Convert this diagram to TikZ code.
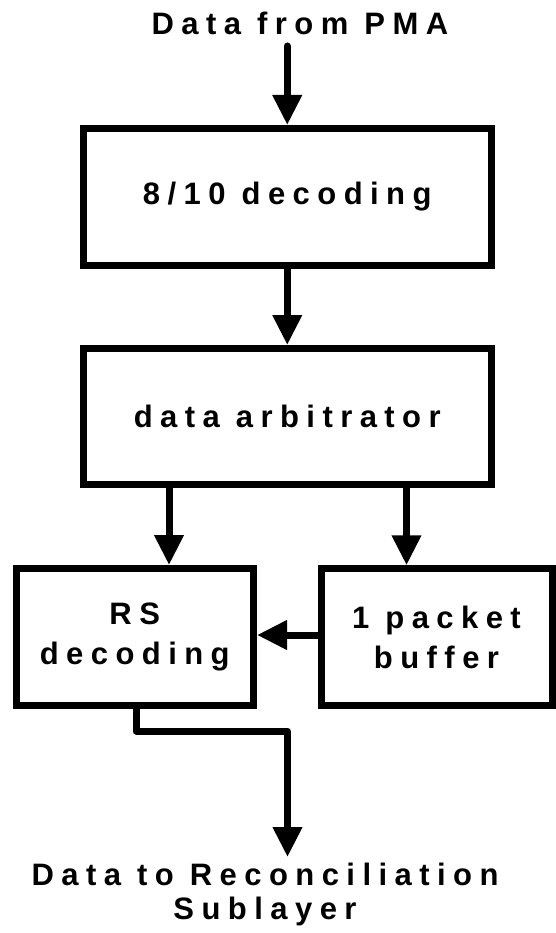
\documentclass[tikz,border=0pt]{standalone}
\usepackage{fontspec}
\setmainfont{Liberation Sans}[LetterSpace=24]
\usetikzlibrary{arrows.meta}
\begin{document}
\begin{tikzpicture}[x=1pt,y=-1pt,
  every node/.style={font=\bfseries\fontsize{31}{40}\selectfont, align=center},
  blk/.style={draw=black, line width=7pt, inner sep=0pt, line join=miter},
  lbl/.style={inner sep=0pt},
  arr/.style={line width=7pt, line join=round, -{Triangle[length=30pt,width=28pt]}}
  ]
\useasboundingbox (0,0) rectangle (556,933);
\node[lbl, anchor=base] (top) at (300,35) {Data from PMA};
\node[blk, minimum width=407.5pt, minimum height=136.5pt] (dec) at (287.25,196.75) {8/10 decoding};
\node[blk, minimum width=407.5pt, minimum height=135.5pt] (arb) at (287.25,416.25) {data arbitrator};
\node[blk, minimum width=237.5pt, minimum height=137pt] (rs) at (134.75,637) {RS\\decoding};
\node[blk, minimum width=231pt, minimum height=136.5pt] (buf) at (436.5,637) {1 packet\\buffer};
\node[lbl, anchor=base, font=\bfseries\fontsize{31}{34}\selectfont] (out) at (265,919) {Data to Reconciliation\\Sublayer};
\coordinate (inp) at (287.25,46);
\coordinate (lx) at (169,0);
\coordinate (rx) at (406.5,0);
\coordinate (ox) at (136,731);
\coordinate (oy) at (287.5,731);
\coordinate (oend) at (287.5,857);
\draw[arr, line cap=round] (inp) -- (dec.north);
\draw[arr] (dec.south) -- (arb.north);
\draw[arr] (arb.south -| lx) -- (rs.north -| lx);
\draw[arr] (arb.south -| rx) -- (buf.north -| rx);
\draw[arr] (buf.west |- 0,635) -- (rs.east |- 0,635);
\draw[arr] (rs.south -| ox) -- (ox) -- (oy) -- (oend);
\end{tikzpicture}
\end{document}
